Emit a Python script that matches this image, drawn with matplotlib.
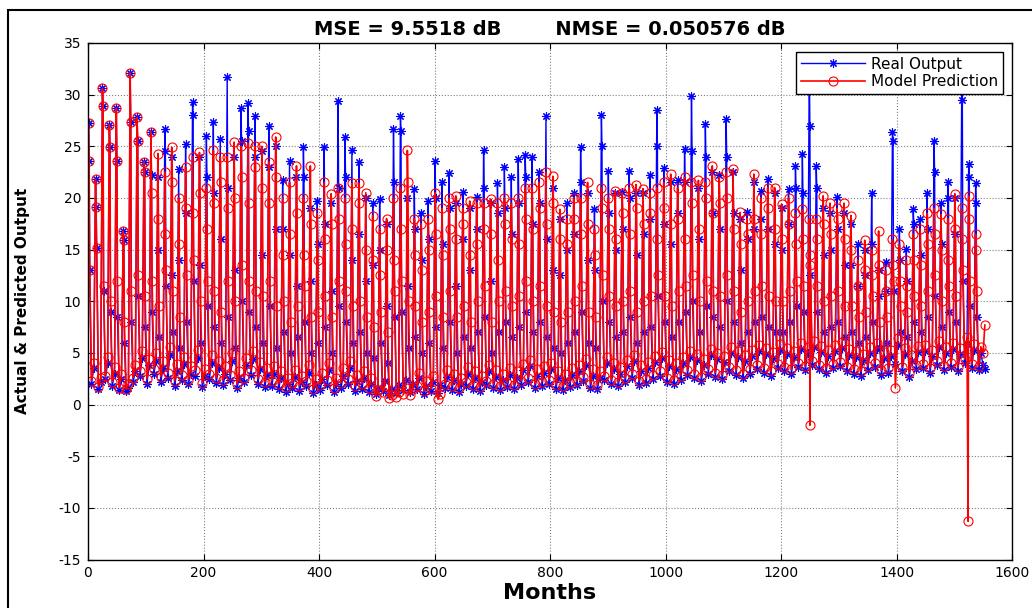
import numpy as np
import matplotlib
matplotlib.use("Agg")
from matplotlib import pyplot as plt
from matplotlib.patches import Rectangle

plt.rcParams["axes.unicode_minus"] = False

# one entry per yearly spike (peak month = 12*k + 1)
real_peak = [27.3, 21.8, 30.6, 27.1, 28.7, 16.8, 32.1, 27.8, 23.5, 26.4,
             22.0, 26.7, 24.0, 22.8, 25.2, 29.3, 24.0, 26.0, 27.4, 25.7,
             31.7, 24.0, 28.7, 29.2, 27.9, 24.5, 27.0, 25.0, 21.7, 23.6,
             22.0, 24.9, 19.0, 19.7, 24.9, 19.5, 29.4, 25.9, 24.6, 23.5,
             20.0, 19.5, 19.9, 17.5, 26.7, 27.9, 20.0, 20.9, 18.5, 19.7,
             23.6, 21.5, 22.4, 19.5, 20.6, 19.0, 20.1, 24.6, 19.5, 21.4,
             23.0, 22.0, 23.8, 24.2, 24.0, 22.5, 27.9, 21.0, 18.0, 19.5,
             20.5, 24.9, 20.5, 18.9, 28.0, 22.6, 20.5, 20.6, 22.6, 20.5,
             20.5, 22.2, 28.5, 22.9, 21.5, 21.7, 24.7, 29.9, 21.0, 27.2,
             22.5, 22.2, 27.6, 22.5, 18.0, 18.6, 21.5, 20.7, 21.8, 20.5,
             19.0, 20.9, 23.1, 24.3, 33.0, 23.1, 19.0, 18.5, 20.1, 18.5,
             17.5, 15.5, 15.0, 20.5, 13.0, 13.8, 26.4, 17.0, 15.1, 18.9,
             18.0, 20.5, 25.5, 19.5, 21.5, 20.0, 31.0, 23.3, 21.4]
pred_peak = [27.3, 21.8, 30.6, 27.1, 28.7, 16.8, 32.1, 27.8, 23.5, 26.4,
             24.3, 22.5, 24.9, 20.0, 23.0, 24.0, 24.4, 21.0, 24.6, 24.0,
             24.0, 25.4, 25.0, 25.3, 25.0, 25.0, 23.5, 25.9, 20.0, 21.5,
             23.1, 20.0, 23.1, 18.5, 21.5, 20.4, 21.0, 20.0, 21.4, 21.4,
             20.5, 18.3, 17.0, 18.0, 20.0, 21.0, 24.6, 18.0, 17.5, 18.0,
             20.5, 19.0, 20.0, 20.2, 19.0, 19.7, 19.5, 19.5, 19.9, 19.5,
             20.0, 19.5, 20.0, 21.0, 21.0, 21.5, 22.5, 22.1, 18.9, 18.0,
             20.0, 20.0, 21.5, 17.0, 21.0, 20.0, 20.7, 20.5, 21.0, 21.3,
             20.9, 20.5, 21.0, 21.5, 22.3, 21.0, 22.0, 21.5, 21.7, 21.5,
             23.1, 22.0, 22.5, 22.8, 18.6, 18.0, 22.3, 20.0, 21.0, 21.0,
             19.4, 20.0, 18.5, 18.9, 18.0, 18.0, 20.2, 19.5, 19.0, 19.5,
             18.3, 14.0, 15.9, 15.0, 16.8, 13.0, 16.0, 15.5, 14.0, 16.5,
             17.0, 18.5, 19.0, 18.4, 18.0, 20.4, 19.0, 20.2, 16.5]

# month after the peak
real_second = [23.6, 19.1, 28.9, 24.9, 23.6, 15.9, 27.4, 25.5, 22.5, 22.2,
               15.0, 24.5, 12.5, 14.0, 18.5, 28.0, 13.5, 22.0, 20.5, 16.0,
               21.0, 13.0, 25.5, 26.5, 24.0, 14.5, 23.0, 17.0, 17.0, 14.5,
               11.5, 22.0, 12.0, 15.5, 17.5, 11.0, 21.0, 22.0, 14.0, 16.5,
               12.0, 13.5, 15.0, 9.5, 21.5, 26.5, 11.5, 17.0, 14.0, 16.0,
               20.0, 15.5, 19.0, 11.5, 16.0, 13.0, 17.0, 21.0, 12.0, 18.5,
               19.0, 16.5, 19.5, 22.0, 17.5, 19.5, 16.0, 13.0, 12.5, 15.0,
               16.5, 21.5, 14.0, 13.0, 25.0, 18.5, 15.0, 17.0, 20.0, 14.5,
               16.5, 18.0, 25.0, 17.5, 15.5, 18.5, 21.5, 24.5, 16.0, 24.0,
               18.5, 17.0, 24.0, 18.5, 13.0, 16.0, 17.0, 18.0, 17.0, 15.5,
               15.0, 17.5, 21.0, 20.5, 27.0, 21.0, 14.5, 15.0, 17.0, 13.5,
               13.5, 11.5, 12.5, 15.5, 10.5, 11.0, 25.5, 14.0, 12.0, 17.5,
               14.5, 17.0, 22.5, 15.5, 20.0, 16.5, 29.5, 22.0, 19.5]
pred_second = [23.6, 19.1, 28.9, 24.9, 23.6, 15.9, 27.4, 25.5, 22.5, 20.5,
               18.0, 16.5, 21.5, 15.5, 19.0, 18.5, 20.5, 17.0, 19.5, 21.5,
               19.0, 20.0, 22.0, 19.5, 23.0, 21.0, 19.5, 22.0, 14.5, 16.5,
               18.5, 14.5, 17.5, 14.0, 16.0, 17.5, 18.0, 15.5, 17.0, 19.5,
               15.0, 14.0, 12.5, 15.0, 14.0, 17.0, 21.5, 14.5, 13.0, 15.0,
               16.5, 14.5, 17.0, 16.0, 17.5, 14.5, 15.5, 17.0, 16.5, 14.0,
               17.5, 16.0, 15.5, 18.0, 17.0, 19.0, 17.5, 19.5, 16.0, 15.5,
               18.0, 16.5, 17.5, 14.5, 19.0, 17.0, 16.0, 18.5, 16.5, 19.0,
               17.5, 18.5, 16.0, 19.0, 17.5, 18.0, 16.0, 19.5, 17.0, 20.0,
               18.5, 19.5, 20.0, 17.0, 15.5, 16.5, 18.0, 16.5, 19.0, 17.0,
               16.0, 17.5, 15.5, 16.0, 14.5, 16.0, 17.5, 16.5, 18.0, 16.0,
               15.0, 11.5, 13.0, 12.5, 13.5, 11.0, 13.5, 12.0, 11.5, 14.0,
               13.5, 15.5, 16.5, 15.0, 14.0, 17.0, 16.0, 18.0, 15.0]

# two months after the peak
real_mid = [13.0, 15.2, 11.0, 9.0, 8.5, 6.0, 8.0, 10.5, 7.5, 9.0,
            6.5, 11.5, 7.0, 5.5, 8.0, 12.0, 6.0, 9.5, 7.5, 6.0,
            8.5, 5.5, 10.0, 9.0, 7.5, 6.0, 9.5, 5.5, 7.0, 5.0,
            6.5, 8.0, 5.0, 6.0, 7.5, 5.0, 9.5, 8.0, 6.0, 7.0,
            5.0, 4.5, 6.0, 4.0, 8.5, 9.0, 5.5, 6.5, 5.0, 6.0,
            7.5, 5.5, 8.0, 5.0, 6.5, 5.5, 7.0, 8.5, 5.0, 7.0,
            8.0, 6.5, 7.5, 9.0, 7.0, 8.0, 6.5, 5.5, 5.0, 6.0,
            7.0, 9.0, 6.0, 5.5, 10.0, 8.0, 6.5, 7.0, 8.5, 6.0,
            7.0, 7.5, 10.5, 8.0, 6.5, 8.0, 9.0, 10.0, 7.0, 9.5,
            8.5, 7.5, 10.0, 8.0, 6.0, 7.0, 8.0, 8.5, 7.5, 7.0,
            7.0, 8.0, 9.5, 9.0, 12.5, 9.0, 7.0, 7.5, 8.0, 6.5,
            7.0, 6.0, 6.5, 8.0, 5.5, 6.0, 11.0, 7.0, 6.5, 8.0,
            7.0, 8.5, 10.5, 7.5, 9.0, 8.0, 12.0, 9.5, 8.5]
pred_mid = [13.0, 15.2, 11.5, 10.0, 12.0, 8.0, 11.0, 12.5, 10.5, 12.0,
            9.5, 13.0, 11.0, 8.5, 12.5, 14.0, 10.0, 12.0, 11.0, 9.0,
            12.0, 10.0, 13.5, 12.0, 11.0, 10.5, 12.0, 9.5, 10.0, 8.0,
            9.5, 11.5, 8.5, 9.0, 10.5, 8.5, 12.0, 11.0, 9.5, 10.0,
            8.5, 7.5, 9.0, 7.0, 11.0, 12.0, 10.0, 9.5, 8.0, 9.0,
            10.5, 8.5, 11.0, 8.5, 9.5, 8.0, 10.0, 11.5, 8.0, 10.0,
            11.0, 9.5, 10.5, 12.0, 10.0, 11.5, 9.5, 9.0, 8.0, 9.0,
            10.0, 11.5, 9.0, 8.5, 12.5, 10.5, 9.5, 10.0, 11.0, 9.0,
            10.0, 10.5, 12.5, 10.5, 9.5, 11.0, 11.5, 12.5, 10.0, 12.0,
            11.0, 10.5, 12.5, 11.0, 9.0, 10.0, 11.0, 11.5, 10.5, 10.0,
            10.0, 11.0, 12.0, 11.5, 13.5, 11.5, 10.0, 10.5, 11.0, 9.5,
            9.5, 8.5, 9.0, 10.5, 8.0, 8.5, 12.0, 9.5, 9.0, 10.5,
            9.5, 11.0, 12.5, 10.0, 11.5, 10.5, 13.0, 12.0, 11.0]

# off-season lows (5 and 9 months after the peak)
real_low1 = [2.0, 1.5, 2.5, 1.8, 1.4, 1.3, 2.2, 2.8, 2.0, 3.0,
             2.2, 2.6, 1.8, 2.4, 2.0, 2.8, 1.7, 2.5, 2.1, 1.9,
             2.4, 1.6, 2.2, 2.9, 2.0, 1.7, 1.8, 1.5, 1.2, 1.6,
             1.3, 1.8, 1.1, 1.4, 1.9, 1.2, 1.6, 2.0, 1.3, 1.5,
             1.2, 1.0, 1.3, 0.9, 1.1, 1.4, 1.2, 1.5, 1.0, 1.3,
             1.1, 1.6, 1.4, 1.2, 1.8, 1.5, 1.3, 1.9, 1.6, 1.4,
             1.7, 1.5, 1.9, 2.2, 1.6, 1.8, 2.0, 1.5, 1.4, 1.7,
             1.9, 2.3, 1.6, 1.5, 2.4, 2.0, 1.8, 2.2, 2.6, 1.9,
             2.1, 2.5, 2.8, 2.2, 2.0, 2.4, 2.9, 2.6, 2.3, 3.0,
             2.7, 2.5, 3.2, 2.9, 2.6, 3.0, 3.4, 3.1, 2.8, 3.5,
             3.2, 3.0, 3.6, 3.3, 3.8, 3.4, 3.1, 3.5, 3.7, 3.2,
             3.0, 2.8, 3.3, 3.6, 2.9, 3.1, 3.9, 3.2, 2.7, 3.4,
             3.5, 3.1, 3.8, 3.3, 3.6, 3.2, 4.0, 3.5, 3.3]
real_low2 = [3.5, 2.2, 4.0, 3.0, 2.5, 1.6, 3.2, 4.5, 3.8, 4.2,
             3.5, 4.8, 3.2, 3.9, 3.0, 4.5, 2.8, 4.0, 3.5, 3.0,
             4.2, 2.6, 3.8, 4.4, 3.4, 2.9, 3.0, 2.6, 2.0, 2.7,
             2.2, 3.1, 1.9, 2.5, 3.3, 2.0, 2.8, 3.5, 2.3, 2.6,
             2.0, 1.6, 2.3, 1.5, 1.9, 2.4, 2.0, 2.6, 1.8, 2.2,
             1.9, 2.7, 2.4, 2.0, 3.0, 2.6, 2.2, 3.2, 2.7, 2.4,
             2.9, 2.6, 3.3, 3.7, 2.8, 3.1, 3.4, 2.6, 2.4, 2.9,
             3.2, 3.8, 2.8, 2.6, 4.0, 3.4, 3.0, 3.7, 4.2, 3.2,
             3.5, 4.1, 4.5, 3.7, 3.4, 4.0, 4.6, 4.3, 3.8, 4.8,
             4.4, 4.1, 5.0, 4.6, 4.2, 4.7, 5.2, 4.9, 4.5, 5.3,
             4.9, 4.6, 5.4, 5.0, 5.6, 5.1, 4.7, 5.2, 5.5, 4.8,
             4.6, 4.3, 5.0, 5.4, 4.5, 4.7, 5.8, 4.9, 4.2, 5.1,
             5.2, 4.7, 5.6, 5.0, 5.4, 4.9, 5.9, 5.3, 5.0]
pred_low1 = [2.3, 1.7, 2.8, 2.2, 1.6, 1.5, 2.6, 3.2, 2.5, 3.4,
             2.7, 3.1, 2.3, 2.9, 2.4, 3.3, 2.1, 3.0, 2.6, 2.4,
             2.9, 2.0, 2.6, 3.3, 2.5, 2.2, 2.3, 2.0, 1.7, 2.1,
             1.8, 2.3, 1.5, 1.9, 2.4, 1.6, 2.1, 2.5, 1.8, 2.0,
             1.6, 0.8, 1.2, 0.6, 0.7, 1.0, 0.9, 1.8, 1.3, 1.5,
             0.5, 2.0, 1.8, 1.6, 2.2, 1.9, 1.7, 2.3, 2.0, 1.8,
             2.1, 1.9, 2.3, 2.6, 2.0, 2.2, 2.4, 1.9, 1.8, 2.1,
             2.3, 2.7, 2.0, 1.9, 2.8, 2.4, 2.2, 2.6, 3.0, 2.3,
             2.5, 2.9, 3.2, 2.6, 2.4, 2.8, 3.3, 3.0, 2.7, 3.4,
             3.1, 2.9, 3.6, 3.3, 3.0, 3.4, 3.8, 3.5, 3.2, 3.9,
             3.6, 3.4, 4.0, 3.7, 4.2, 3.8, 3.5, 3.9, 4.1, 3.6,
             3.4, 3.2, 3.7, 4.0, 3.3, 3.5, 1.6, 3.6, 3.1, 3.8,
             3.9, 3.5, 4.2, 3.7, 4.0, 3.6, 4.4, 3.9, 3.7]
pred_low2 = [4.0, 2.6, 4.6, 3.6, 3.0, 2.0, 3.8, 5.2, 4.4, 5.0,
             4.2, 5.6, 3.9, 4.6, 3.7, 5.3, 3.4, 4.8, 4.2, 3.7,
             5.0, 3.2, 4.5, 5.2, 4.1, 3.5, 3.7, 3.2, 2.6, 3.3,
             2.8, 3.8, 2.5, 3.1, 4.0, 2.6, 3.5, 4.2, 2.9, 3.2,
             2.6, 1.4, 1.8, 0.9, 1.2, 1.6, 1.5, 3.1, 2.3, 2.8,
             1.0, 3.3, 3.0, 2.6, 3.6, 3.2, 2.8, 3.8, 3.3, 3.0,
             3.5, 3.2, 3.9, 4.3, 3.4, 3.7, 4.0, 3.2, 3.0, 3.5,
             3.8, 4.4, 3.4, 3.2, 4.6, 4.0, 3.6, 4.3, 4.8, 3.8,
             4.1, 4.7, 5.1, 4.3, 4.0, 4.6, 5.2, 4.9, 4.4, 5.4,
             5.0, 4.7, 5.6, 5.2, 4.8, 5.3, 5.8, 5.5, 5.1, 5.9,
             5.5, 5.2, 6.0, 5.6, 6.2, 5.7, 5.3, 5.8, 6.1, 5.4,
             5.2, 4.9, 5.6, 6.0, 5.1, 5.3, 6.4, 5.5, 4.8, 5.7,
             5.8, 5.3, 6.2, 5.6, 6.0, 5.5, 6.5, 5.9, 5.6]

# model outliers below zero and the last months of the record
dip_months = [1250, 1524]
dip_values = [-2.0, -11.3]
tail_months = [1550, 1553]
real_tail = [3.8, 3.4]
pred_tail = [5.0, 7.7]

cycle_offsets = [1, 2, 3, 6, 10]


def build_series(peak, second, mid, low1, low2, extra_m, extra_v):
    months = []
    vals = []
    for k in range(len(peak)):
        cyc = [peak[k], second[k], mid[k], low1[k], low2[k]]
        for off, v in zip(cycle_offsets, cyc):
            months.append(12 * k + off)
            vals.append(v)
    months = months + list(extra_m)
    vals = vals + list(extra_v)
    order = np.argsort(months, kind="stable")
    return np.array(months)[order], np.array(vals)[order]


real_x, real_y = build_series(real_peak, real_second, real_mid, real_low1, real_low2,
                              tail_months, real_tail)
pred_x, pred_y = build_series(pred_peak, pred_second, pred_mid, pred_low1, pred_low2,
                              dip_months + tail_months, dip_values + pred_tail)

W, H = 1032, 608
fig = plt.figure(figsize=(W / 100, H / 100), dpi=100)
fig.patch.set_facecolor("white")
ax = fig.add_axes([88 / W, 1 - 559.5 / H, (1012 - 88) / W, (559.5 - 43) / H])

# outer figure frame
fig.patches.append(Rectangle((8 / W, -0.1), 1.2, 1.1 - 10 / H, transform=fig.transFigure,
                             fill=False, edgecolor="black", linewidth=1.5))

ax.plot(real_x, real_y, color="blue", linewidth=1.0, marker=(8, 2, 0), markersize=6,
        markeredgewidth=0.8, label="Real Output")
ax.plot(pred_x, pred_y, color="red", linewidth=1.2, marker="o", markersize=6.5,
        markerfacecolor="none", markeredgewidth=0.8, label="Model Prediction")

ax.set_xlim(0, 1600)
ax.set_ylim(-15, 35)
ax.set_xticks(np.arange(0, 1601, 200))
ax.set_yticks(np.arange(-15, 36, 5))
ax.grid(True, color="#808080", linestyle=":", linewidth=0.8)
ax.set_axisbelow(True)
ax.tick_params(direction="in", top=True, right=True, length=4, width=0.8,
               labelsize=10, pad=5)
for s in ax.spines.values():
    s.set_linewidth(1.0)

ax.set_title("MSE = 9.5518 dB        NMSE = 0.050576 dB", fontsize=14,
             fontweight="bold", pad=6)
ax.set_xlabel("Months", fontsize=16, fontweight="bold")
ax.xaxis.set_label_coords(0.5, -0.045)
ax.set_ylabel("Actual & Predicted Output", fontsize=11, fontweight="bold")
ax.yaxis.set_label_coords(-0.063, 0.5)

leg = ax.legend(loc="upper right", fontsize=11, fancybox=False, edgecolor="black",
                framealpha=1, borderaxespad=0.6, handlelength=4.2, handletextpad=0.4,
                borderpad=0.3, labelspacing=0.15)
leg.get_frame().set_linewidth(1.0)

fig.savefig("out.png", dpi=100)
